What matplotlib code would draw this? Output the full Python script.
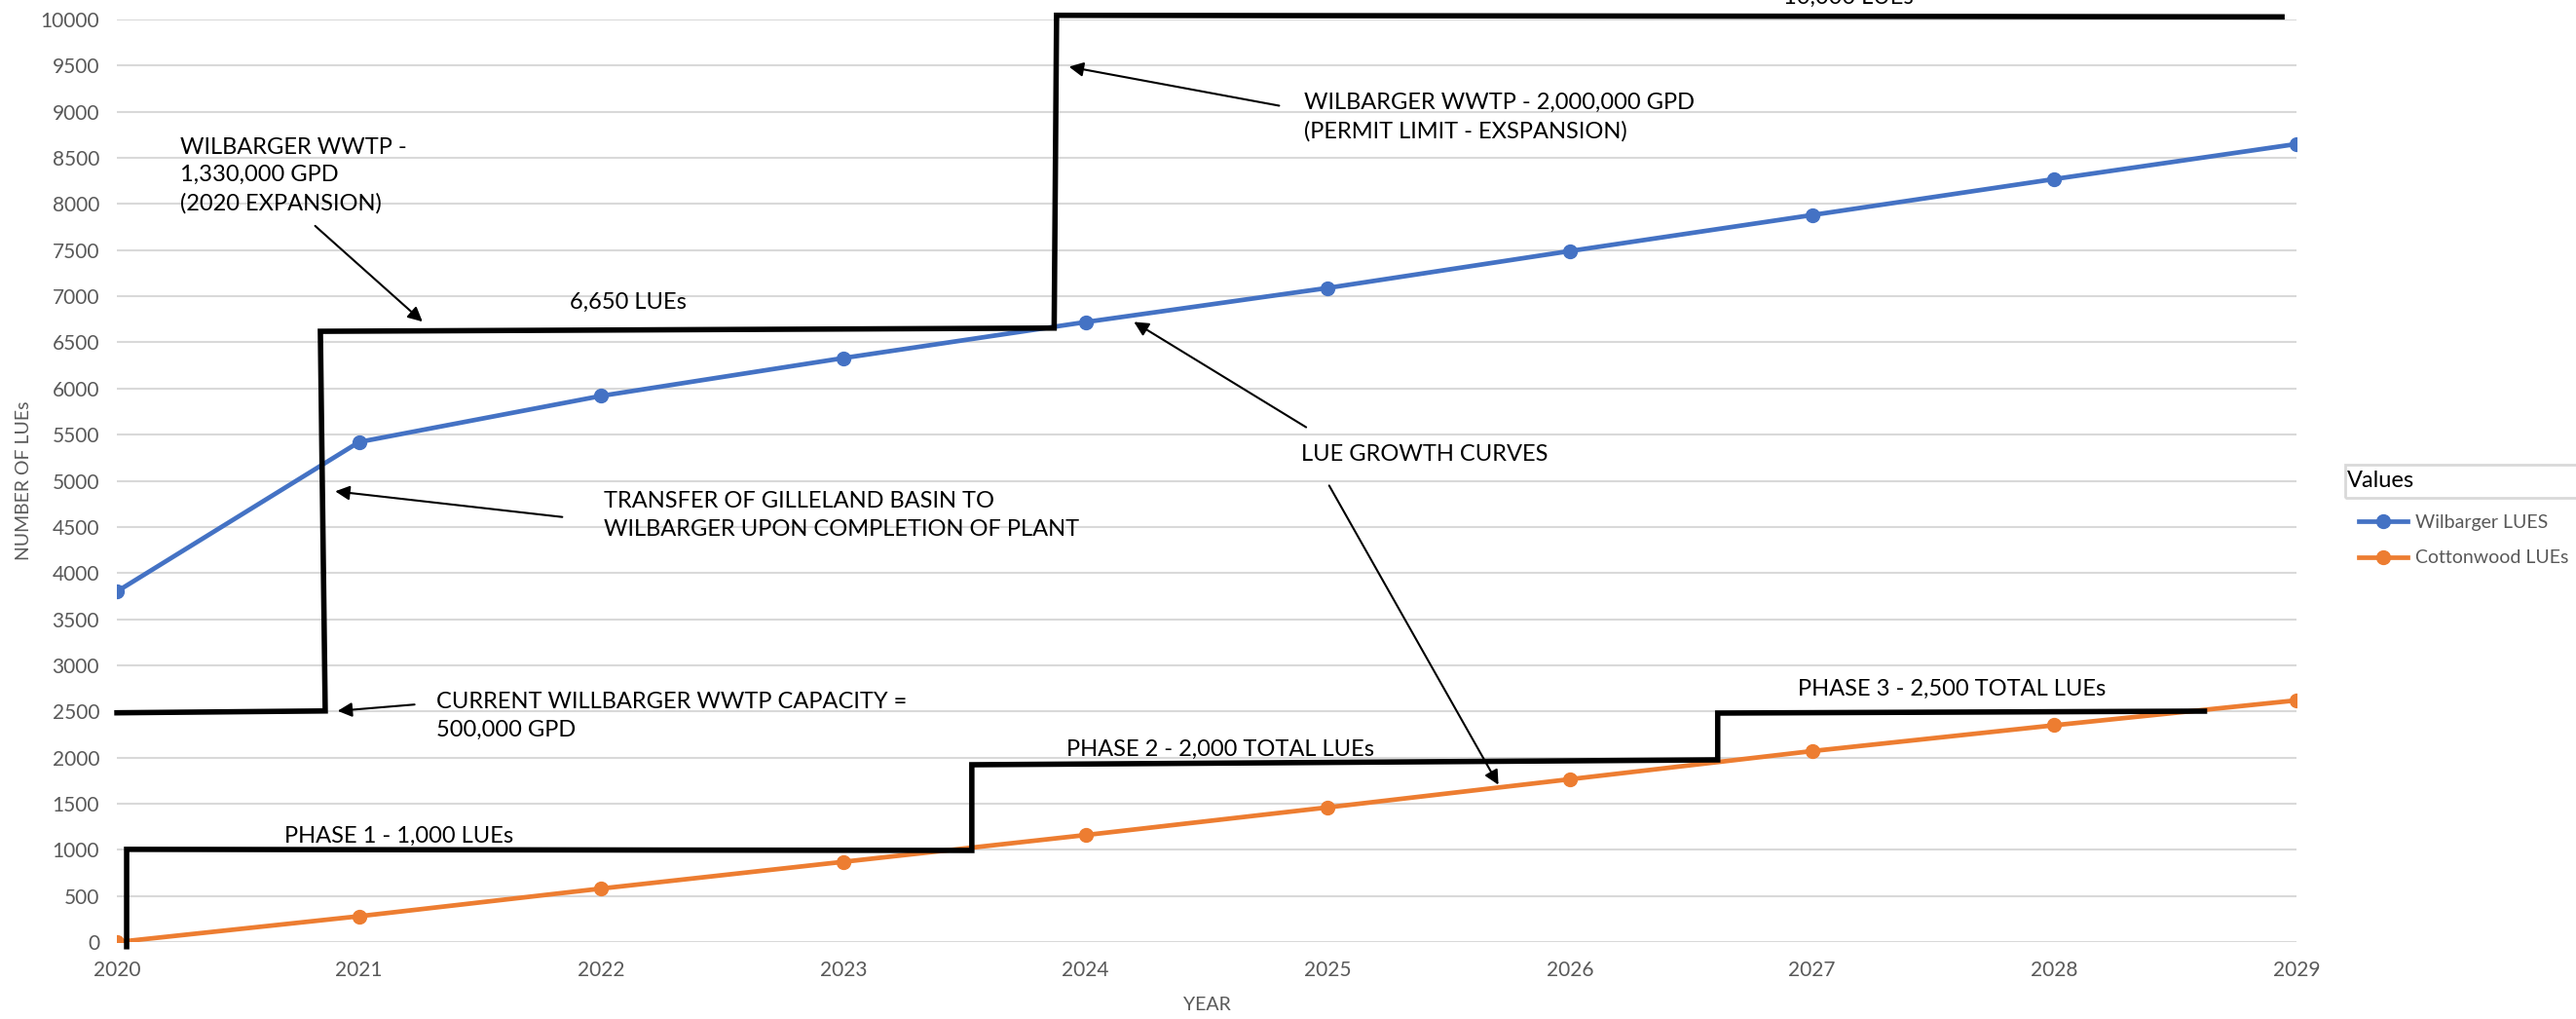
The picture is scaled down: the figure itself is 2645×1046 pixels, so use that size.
import matplotlib.pyplot as plt
from matplotlib.patches import Rectangle
from matplotlib.lines import Line2D

plt.rcParams["font.family"] = ["Lato", "DejaVu Sans"]

# Data
years = [2020, 2021, 2022, 2023, 2024, 2025, 2026, 2027, 2028, 2029]
wilbarger_lues = [3800, 5420, 5920, 6330, 6720, 7090, 7490, 7880, 8270, 8650]
cottonwood_lues = [0, 280, 580, 870, 1160, 1460, 1765, 2070, 2350, 2620]

# capacity step lines (year, LUEs)
wil_cap_x = [2020.0, 2020.86, 2020.84, 2023.87, 2023.88, 2028.94]
wil_cap_y = [2485, 2505, 6620, 6655, 10045, 10028]
cot_cap_x = [2020.04, 2020.04, 2023.53, 2023.53, 2026.61, 2026.61, 2028.62]
cot_cap_y = [-50, 1005, 993, 1922, 1975, 2482, 2503]

BLUE = "#4472C4"
ORANGE = "#ED7D31"
GREY = "#595959"

fig = plt.figure(figsize=(26.45, 10.46), dpi=100)
ax = fig.add_axes([0.0454, 0.0755, 0.8461, 0.9054])

ax.plot(years, wilbarger_lues, color=BLUE, lw=3.4, marker="o", ms=10, label="Wilbarger LUES", zorder=3)
ax.plot(years, cottonwood_lues, color=ORANGE, lw=3.4, marker="o", ms=10, label="Cottonwood LUEs", zorder=3)
ax.plot(wil_cap_x, wil_cap_y, color="black", lw=4, clip_on=False, zorder=4, solid_joinstyle="miter")
ax.plot(cot_cap_x, cot_cap_y, color="black", lw=4, clip_on=False, zorder=4, solid_joinstyle="miter")

ax.set_xlim(2020, 2029)
ax.set_ylim(0, 10000)
ax.set_xticks(years)
ax.set_yticks(range(0, 10001, 500))
ax.yaxis.grid(True, color="#D9D9D9", lw=1.5)
ax.set_axisbelow(True)
for s in ax.spines.values():
    s.set_visible(False)
ax.tick_params(length=0, labelsize=15, labelcolor=GREY)
ax.tick_params(axis="x", pad=14)
ax.tick_params(axis="y", pad=13)
ax.set_xlabel("YEAR", fontsize=14, color=GREY, labelpad=12)
ax.set_ylabel("NUMBER OF LUEs", fontsize=14, color=GREY, labelpad=6)

# annotations
fs = 17
arr = dict(arrowstyle="-|>", color="black", lw=1.5, mutation_scale=22)
ax.text(2020.26, 8310, "WILBARGER WWTP -\n1,330,000 GPD\n(2020 EXPANSION)", fontsize=fs, va="center", linespacing=1.45)
ax.annotate("", xy=(2021.27, 6705), xytext=(2020.81, 7782), arrowprops=arr)
ax.text(2021.87, 6938, "6,650 LUEs", fontsize=fs, va="center")
ax.text(2024.90, 8944, "WILBARGER WWTP - 2,000,000 GPD\n(PERMIT LIMIT - EXSPANSION)", fontsize=fs, va="center", linespacing=1.45)
ax.annotate("", xy=(2023.92, 9493), xytext=(2024.81, 9060), arrowprops=arr)
ax.text(2022.01, 4625, "TRANSFER OF GILLELAND BASIN TO\nWILBARGER UPON COMPLETION OF PLANT", fontsize=fs, va="center", linespacing=1.45)
ax.annotate("", xy=(2020.89, 4889), xytext=(2021.85, 4604), arrowprops=arr)
ax.text(2024.89, 5280, "LUE GROWTH CURVES", fontsize=fs, va="center")
ax.annotate("", xy=(2024.19, 6737), xytext=(2024.92, 5565), arrowprops=arr)
ax.annotate("", xy=(2025.71, 1679), xytext=(2025.0, 4974), arrowprops=arr)
ax.text(2021.32, 2450, "CURRENT WILLBARGER WWTP CAPACITY =\n500,000 GPD", fontsize=fs, va="center", linespacing=1.45)
ax.annotate("", xy=(2020.90, 2503), xytext=(2021.24, 2577), arrowprops=arr)
ax.text(2020.69, 1151, "PHASE 1 - 1,000 LUEs", fontsize=fs, va="center")
ax.text(2023.92, 2091, "PHASE 2 - 2,000 TOTAL LUEs", fontsize=fs, va="center")
ax.text(2026.94, 2745, "PHASE 3 - 2,500 TOTAL LUEs", fontsize=fs, va="center")
ax.text(2027.15, 10169, "10,000 LUEs", fontsize=fs, va="baseline", ha="center", clip_on=False)

# legend with boxed "Values" header
fig.patches.append(Rectangle((0.9104, 0.5115), 0.1, 0.0325, transform=fig.transFigure,
                             fill=False, edgecolor="#D9D9D9", lw=2))
fig.text(0.9112, 0.528, "Values", fontsize=17, va="center", color="black")
handles = [Line2D([], [], color=BLUE, lw=3.4, marker="o", ms=10),
           Line2D([], [], color=ORANGE, lw=3.4, marker="o", ms=10)]
leg = fig.legend(handles, ["Wilbarger LUES", "Cottonwood LUEs"], loc="upper left",
                 bbox_to_anchor=(0.909, 0.512), frameon=False, fontsize=14,
                 handlelength=2.6, labelspacing=1.0, handletextpad=0.4)
for t in leg.get_texts():
    t.set_color(GREY)

plt.savefig("out.png", dpi=100)
